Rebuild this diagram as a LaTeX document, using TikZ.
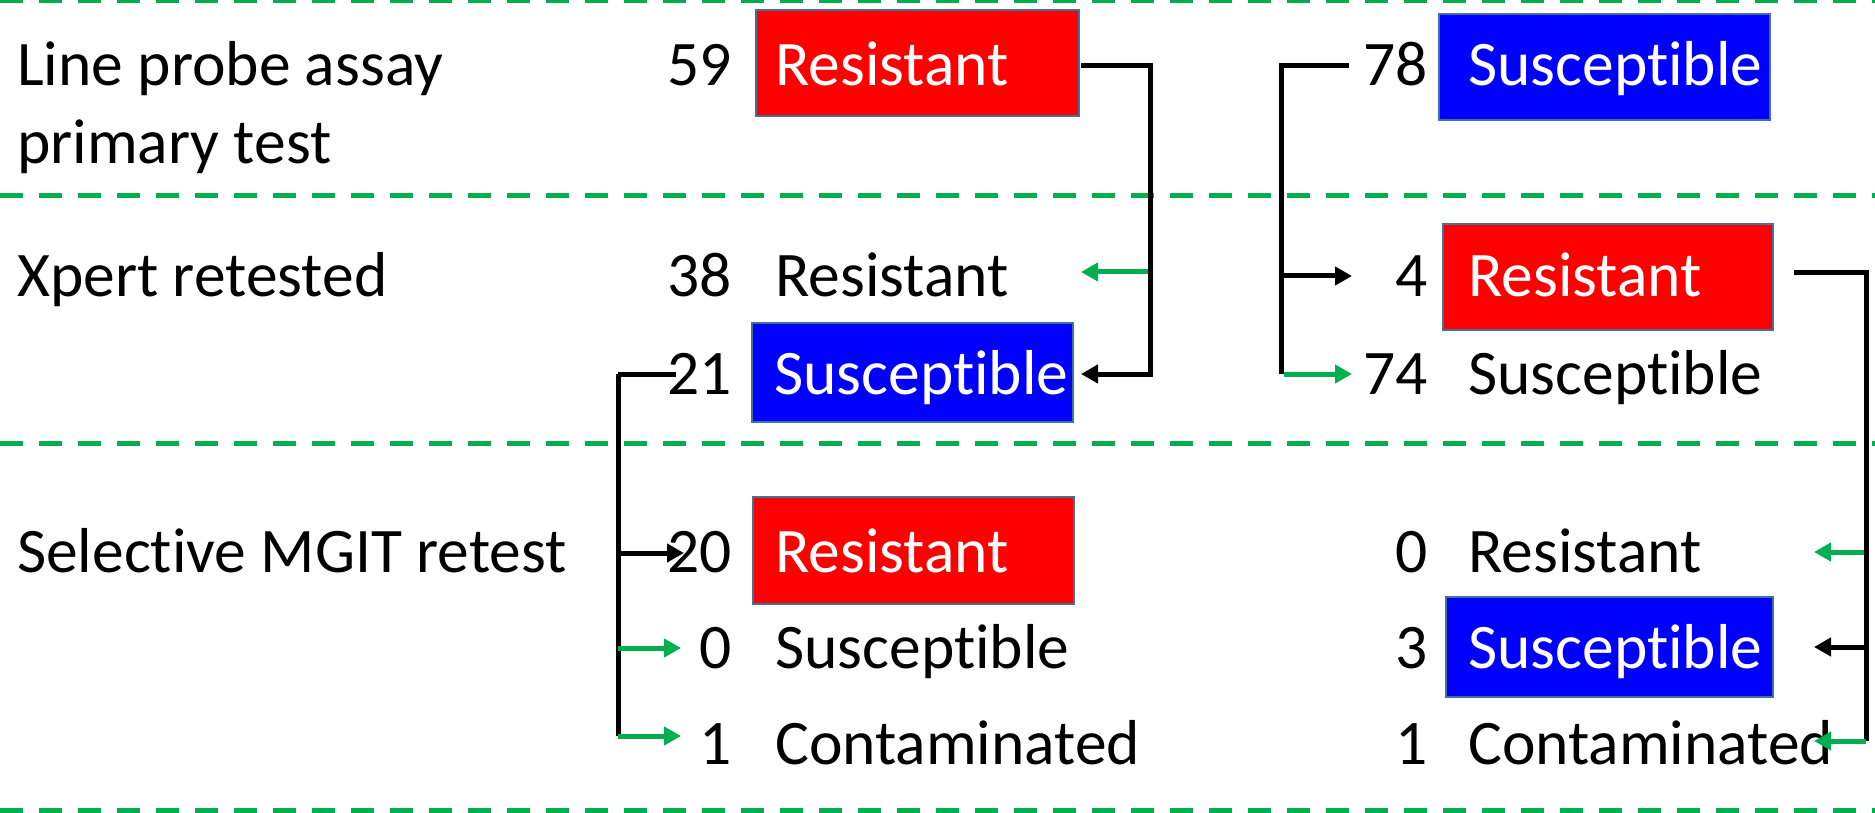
\documentclass[tikz,border=0pt]{standalone}
\usepackage{fontspec}
\setmainfont[Ligatures={NoCommon}]{Carlito}
\usetikzlibrary{arrows.meta}
\definecolor{pgreen}{RGB}{0,176,80}
\definecolor{pred}{RGB}{255,0,0}
\definecolor{pblue}{RGB}{0,0,255}
\definecolor{pborder}{RGB}{65,113,156}
\begin{document}
\begin{tikzpicture}[x=1pt,y=-1pt,
  every node/.style={font=\fontsize{63.5}{76}\selectfont, inner sep=0pt},
  num/.style={anchor=base east},
  lab/.style={anchor=base west},
  wlab/.style={anchor=base west, text=white},
  box/.style={draw=pborder, line width=2pt, minimum width=322pt, minimum height=104pt},
  redbox/.style={box, fill=pred},
  bluebox/.style={box, fill=pblue},
  dashline/.style={draw=pgreen, line width=5pt, dash pattern=on 23pt off 16pt},
  blk/.style={draw=black, line width=5pt},
  grn/.style={draw=pgreen, line width=5pt},
  tip/.style={-{Triangle[length=17pt,width=18pt]}}
]
\useasboundingbox (0,0) rectangle (1875,813);

% section separators
\draw[dashline] (0,1) -- (1875,1);
\draw[dashline] (0,196) -- (1875,196);
\draw[dashline] (0,443) -- (1875,443);
\draw[dashline] (0,810) -- (1875,810);

% row labels
\node[lab] (h1a) at (17,86) {Line probe assay};
\node[lab] (h1b) at (17,164) {primary test};
\node[lab] (h2) at (17,296) {Xpert retested};
\node[lab] (h3) at (17,572) {Selective MGIT retest};

% boxes
\node[redbox, minimum width=323pt, minimum height=106pt] (b1) at (917.5,63) {};
\node[bluebox, minimum width=321pt, minimum height=99pt] (b2) at (912.5,372.5) {};
\node[redbox, minimum width=321pt, minimum height=107pt] (b3) at (913.5,550.5) {};
\node[bluebox, minimum width=331pt, minimum height=106pt] (b4) at (1604.5,67) {};
\node[redbox, minimum width=330pt, minimum height=106pt] (b5) at (1608,277) {};
\node[bluebox, minimum width=327pt, minimum height=100pt] (b6) at (1609.5,647) {};

% left column
\node[num] (n59) at (732,86) {59};
\node[wlab] (l59) at (775,86) {Resistant};
\node[num] (n38) at (732,296) {38};
\node[lab] (l38) at (775,296) {Resistant};
\node[num] (n21) at (732,394) {21};
\node[wlab] (l21) at (774,394) {Susceptible};
\node[num] (n20) at (732,572) {20};
\node[wlab] (l20) at (775,572) {Resistant};
\node[num] (n0a) at (732,668) {0};
\node[lab] (l0a) at (775,668) {Susceptible};
\node[num] (n1a) at (732,764) {1};
\node[lab] (l1a) at (775,764) {Contaminated};

% right column
\node[num] (n78) at (1428,86) {78};
\node[wlab] (l78) at (1468,86) {Susceptible};
\node[num] (n4) at (1428,296) {4};
\node[wlab] (l4) at (1468,296) {Resistant};
\node[num] (n74) at (1428,394) {74};
\node[lab] (l74) at (1468,394) {Susceptible};
\node[num] (n0b) at (1428,572) {0};
\node[lab] (l0b) at (1468,572) {Resistant};
\node[num] (n3) at (1428,668) {3};
\node[wlab] (l3) at (1468,668) {Susceptible};
\node[num] (n1b) at (1428,764) {1};
\node[lab] (l1b) at (1468,764) {Contaminated};

% connector coordinates
\coordinate (s1) at (1081,66);
\coordinate (k1) at (1150,66);
\coordinate (k1g) at (1148,272);
\coordinate (t38) at (1081,272);
\coordinate (t21) at (1081,374);

\coordinate (k2) at (618,374);
\coordinate (e21) at (676,374);
\coordinate (k2a) at (618,553);
\coordinate (t20) at (684,553);
\coordinate (k2b) at (618,648);
\coordinate (t0a) at (681,648);
\coordinate (k2c) at (618,736);
\coordinate (t1a) at (681,736);

\coordinate (s78) at (1349,66);
\coordinate (k3) at (1281,66);
\coordinate (k3a) at (1281,276);
\coordinate (t4) at (1352,276);
\coordinate (k3b) at (1281,374);
\coordinate (k3bg) at (1284,374);
\coordinate (t74) at (1352,374);

\coordinate (s5) at (1794,273);
\coordinate (k4) at (1866,273);
\coordinate (k4a) at (1864,552);
\coordinate (t0b) at (1814,552);
\coordinate (k4b) at (1866,647);
\coordinate (t3) at (1814,647);
\coordinate (k4c) at (1866,741);
\coordinate (t1b) at (1814,741);

% left tree
\draw[blk, tip] (s1) -- (k1) |- (t21);
\draw[grn, tip] (k1g) -- (t38);
\draw[blk] (k2) -- (k2c);
\draw[blk] (k2) -- (e21);
\draw[blk, tip] (k2a) -- (t20);
\draw[grn, tip] (k2b) -- (t0a);
\draw[grn, tip] (k2c) -- (t1a);

% right tree
\draw[blk] (s78) -- (k3) -- (k3b);
\draw[blk, tip] (k3a) -- (t4);
\draw[grn, tip] (k3bg) -- (t74);
\draw[blk] (s5) -- (k4) -- (k4c);
\draw[grn, tip] (k4a) -- (t0b);
\draw[blk, tip] (k4b) -- (t3);
\draw[grn, tip] (k4c) -- (t1b);
\end{tikzpicture}
\end{document}
